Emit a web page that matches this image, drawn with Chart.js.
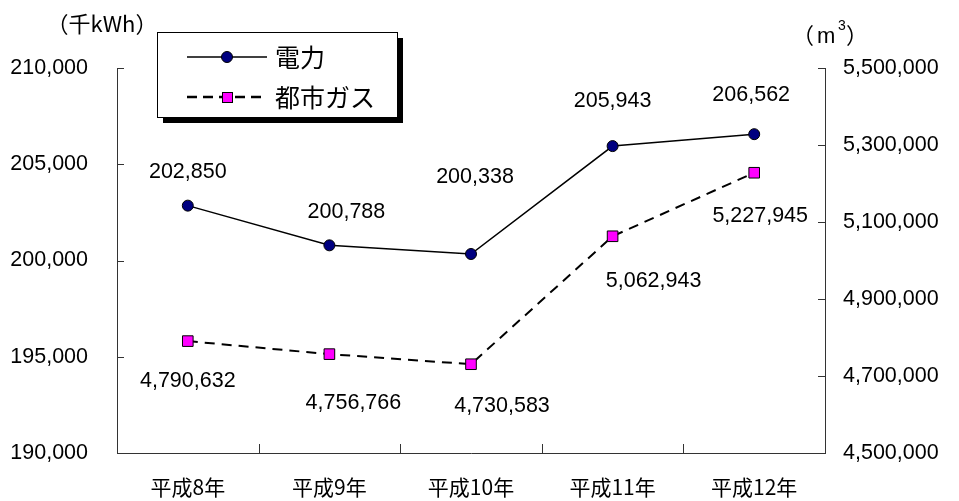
<!DOCTYPE html>
<html>
<head>
<meta charset="utf-8">
<script src="https://cdn.jsdelivr.net/npm/chart.js@4.4.1/dist/chart.umd.min.js"></script>
<style>
html, body { margin: 0; padding: 0; background: #fff; }
</style>
</head>
<body>
<canvas id="energyChart" width="959" height="501"></canvas>
<script>
// data
var years = ["平成8年", "平成9年", "平成10年", "平成11年", "平成12年"];
var denryoku = [202850, 200788, 200338, 205943, 206562];      // 千kWh
var toshiGas = [4790632, 4756766, 4730583, 5062943, 5227945]; // m3
var leftTicks = [190000, 195000, 200000, 205000, 210000];
var rightTicks = [4500000, 4700000, 4900000, 5100000, 5300000, 5500000];

// label nudges (layout only)
var denryokuLabelPos = [[0, -34], [17, -33], [4, -77], [0, -45], [-3, -39]];
var gasLabelPos = [[0, 40], [24, 49], [31, 42], [41, 45], [6, 43]];

var numFont = "'Liberation Sans', Arial, sans-serif";
var jpFont = "'Noto Sans CJK JP', sans-serif";

function fmt(v) { return v.toLocaleString('en-US'); }

var extras = {
	id: 'extras',
	afterDraw: function (chart) {
		var ctx = chart.ctx;
		var a = chart.chartArea;
		var y1 = chart.scales.y1, y2 = chart.scales.y2;

		// inward tick marks
		ctx.save();
		ctx.strokeStyle = '#333';
		ctx.lineWidth = 1;
		ctx.beginPath();
		leftTicks.forEach(function (v) {
			var y = Math.round(y1.getPixelForValue(v)) + 0.5;
			ctx.moveTo(a.left, y); ctx.lineTo(a.left + 7, y);
		});
		rightTicks.forEach(function (v) {
			var y = Math.round(y2.getPixelForValue(v)) + 0.5;
			ctx.moveTo(a.right, y); ctx.lineTo(a.right - 7, y);
		});
		var step = (a.right - a.left) / years.length;
		for (var i = 1; i < years.length; i++) {
			var x = Math.round(a.left + i * step) + 0.5;
			ctx.moveTo(x, a.bottom); ctx.lineTo(x, a.bottom - 9);
		}
		ctx.stroke();

		// value labels
		ctx.fillStyle = '#000';
		ctx.font = '21.5px ' + numFont;
		ctx.textAlign = 'center';
		ctx.textBaseline = 'middle';
		var m0 = chart.getDatasetMeta(0), m1 = chart.getDatasetMeta(1);
		m0.data.forEach(function (p, i) {
			ctx.fillText(fmt(denryoku[i]), p.x + denryokuLabelPos[i][0], p.y + denryokuLabelPos[i][1]);
		});
		m1.data.forEach(function (p, i) {
			ctx.fillText(fmt(toshiGas[i]), p.x + gasLabelPos[i][0], p.y + gasLabelPos[i][1]);
		});

		// axis unit titles
		ctx.font = '22px ' + jpFont;
		ctx.fillText('（千kWh）', 102, 24);
		ctx.textAlign = 'left';
		ctx.fillText('（', 792, 35);
		ctx.font = '22px ' + numFont;
		ctx.fillText('m', 817, 37);
		ctx.font = '14px ' + numFont;
		ctx.fillText('3', 838, 26);
		ctx.font = '22px ' + jpFont;
		ctx.fillText('）', 846, 35);

		// legend box
		var bx = 157, by = 32, bw = 240, bh = 85;
		ctx.fillStyle = '#000';
		ctx.fillRect(bx + 6, by + 6, bw, bh);
		ctx.fillStyle = '#fff';
		ctx.fillRect(bx, by, bw, bh);
		ctx.strokeStyle = '#000';
		ctx.strokeRect(bx + 0.5, by + 0.5, bw, bh);

		ctx.lineWidth = 1.5;
		ctx.beginPath();
		ctx.moveTo(187, 57); ctx.lineTo(267, 57);
		ctx.stroke();
		ctx.beginPath();
		ctx.arc(227, 57, 5.5, 0, Math.PI * 2);
		ctx.fillStyle = '#000080';
		ctx.fill();
		ctx.lineWidth = 1;
		ctx.stroke();

		ctx.lineWidth = 2.5;
		ctx.setLineDash([10, 6]);
		ctx.beginPath();
		ctx.moveTo(187, 97); ctx.lineTo(267, 97);
		ctx.stroke();
		ctx.setLineDash([]);
		ctx.fillStyle = '#ff00ff';
		ctx.fillRect(222, 92, 11, 11);
		ctx.lineWidth = 1;
		ctx.strokeRect(222.5, 92.5, 10, 10);

		ctx.fillStyle = '#000';
		ctx.font = '25px ' + jpFont;
		ctx.textAlign = 'left';
		ctx.fillText('電力', 275, 57);
		ctx.fillText('都市ガス', 275, 97);
		ctx.restore();
	}
};

var energyChart = new Chart(document.getElementById('energyChart'), {
	type: 'line',
	data: {
		labels: years,
		datasets: [
		{
			label: '電力',
			data: denryoku,
			yAxisID: 'y1',
			borderColor: '#000',
			borderWidth: 1.5,
			pointStyle: 'circle',
			pointRadius: 5.5,
			pointBackgroundColor: '#000080',
			pointBorderColor: '#000',
			pointBorderWidth: 1,
			tension: 0
		},
		{
			label: '都市ガス',
			data: toshiGas,
			yAxisID: 'y2',
			borderColor: '#000',
			borderWidth: 2,
			borderDash: [10, 7],
			pointStyle: 'rect',
			pointRadius: 7.5,
			pointBackgroundColor: '#ff00ff',
			pointBorderColor: '#000',
			pointBorderWidth: 1,
			tension: 0
		}]
	},
	options: {
		responsive: false,
		animation: false,
		layout: { padding: { top: 68, left: 0, right: 0, bottom: 0 } },
		plugins: { legend: { display: false }, tooltip: { enabled: false } },
		scales: {
			x: {
				offset: true,
				grid: { display: false, drawTicks: false },
				border: { display: true, color: '#333', width: 1 },
				ticks: { color: '#000', padding: 21, font: { family: jpFont, size: 21 } },
				afterFit: function (s) { s.height = 48; }
			},
			y1: {
				position: 'left',
				min: 190000, max: 210000,
				afterBuildTicks: function (s) { s.ticks = leftTicks.map(function (v) { return { value: v }; }); },
				grid: { display: false, drawTicks: false },
				border: { display: true, color: '#333', width: 1 },
				ticks: { color: '#000', padding: 29, font: { family: numFont, size: 21.5 }, callback: function (v) { return fmt(v); } },
				afterFit: function (s) { s.width = 117; }
			},
			y2: {
				position: 'right',
				min: 4500000, max: 5500000,
				afterBuildTicks: function (s) { s.ticks = rightTicks.map(function (v) { return { value: v }; }); },
				grid: { display: false, drawTicks: false },
				border: { display: true, color: '#333', width: 1 },
				ticks: { color: '#000', padding: 18, font: { family: numFont, size: 21.5 }, callback: function (v) { return fmt(v); } },
				afterFit: function (s) { s.width = 134; }
			}
		}
	},
	plugins: [extras]
});
</script>
</body>
</html>
